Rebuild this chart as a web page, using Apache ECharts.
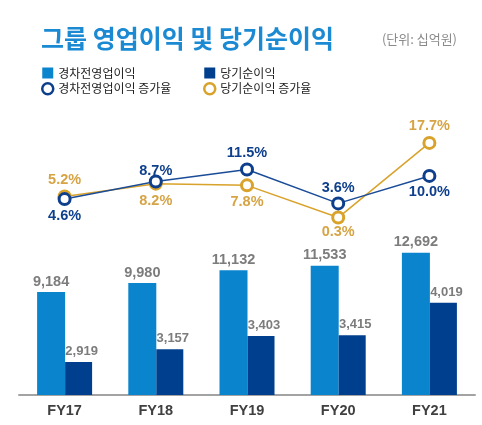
<!DOCTYPE html>
<html>
<head>
<meta charset="utf-8">
<script src="https://cdn.jsdelivr.net/npm/echarts@6/dist/echarts.min.js"></script>
<style>
  html, body { margin: 0; padding: 0; background: #fff; }
  #main { width: 482px; height: 425px; }
</style>
</head>
<body>
<div id="main"></div>
<script>
var chartDom = document.getElementById('main');
var myChart = echarts.init(chartDom);
var option;

// data
const years = ['FY17', 'FY18', 'FY19', 'FY20', 'FY21'];
const opProfit = [9184, 9980, 11132, 11533, 12692];
const netIncome = [2919, 3157, 3403, 3415, 4019];
const opGrowth = [4.6, 8.7, 11.5, 3.6, 10.0];
const netGrowth = [5.2, 8.2, 7.8, 0.3, 17.7];

// label side for each growth point
const opLabelPos = ['bottom', 'top', 'top', 'top', 'bottom'];
const netLabelPos = ['top', 'bottom', 'bottom', 'bottom', 'top'];
const opLabelDist = [2, -4, 2, 1, 2];
const netLabelDist = [2, 3, 2, 0, 2];

const numFont = '"Liberation Sans", Arial, sans-serif';
const krFont = '"Noto Sans CJK KR", sans-serif';

const LIGHT = '#0a84cd';
const DARK = '#003f8e';
const NAVY = '#0e3f8c';
const GOLD = '#d9a22a';

function fmt(v) {
  return v.toLocaleString('en-US');
}

option = {
  backgroundColor: '#fff',
  animation: false,
  title: [
    {
      text: '그룹 영업이익 및 당기순이익',
      left: 36,
      top: 21,
      textStyle: { fontFamily: krFont, fontSize: 25, fontWeight: 'bold', color: '#1b8ad3' }
    },
    {
      text: '(단위: 십억원)',
      right: 20,
      top: 28,
      textStyle: { fontFamily: krFont, fontSize: 13, fontWeight: 'normal', color: '#8a8a8a' }
    }
  ],
  legend: [
    {
      left: 36,
      top: 62,
      orient: 'vertical',
      itemGap: 3,
      itemWidth: 11,
      itemHeight: 11,
      textStyle: { fontFamily: krFont, fontSize: 12, color: '#222' },
      data: [
        { name: '경차전영업이익', icon: 'rect' },
        { name: '경차전영업이익 증가율', icon: 'circle', itemStyle: { color: '#fff', borderColor: NAVY, borderWidth: 2.5 } }
      ]
    },
    {
      left: 198,
      top: 62,
      orient: 'vertical',
      itemGap: 3,
      itemWidth: 11,
      itemHeight: 11,
      textStyle: { fontFamily: krFont, fontSize: 12, color: '#222' },
      data: [
        { name: '당기순이익', icon: 'rect' },
        { name: '당기순이익 증가율', icon: 'circle', itemStyle: { color: '#fff', borderColor: GOLD, borderWidth: 2.5 } }
      ]
    }
  ],
  grid: [
    { left: 19, right: 7, top: 238, bottom: 30 },
    { left: 19, right: 7, top: 130, height: 100 }
  ],
  xAxis: [
    {
      type: 'category',
      gridIndex: 0,
      data: years,
      axisTick: { show: false },
      axisLine: { lineStyle: { color: '#a3a3a3', width: 2 } },
      axisLabel: {
        margin: 8,
        fontFamily: numFont,
        fontSize: 14.5,
        fontWeight: 'bold',
        color: '#404040'
      }
    },
    {
      type: 'category',
      gridIndex: 1,
      data: years,
      show: false
    }
  ],
  yAxis: [
    { type: 'value', gridIndex: 0, min: 0, max: 14000, show: false, splitLine: { show: false } },
    { type: 'value', gridIndex: 0, min: 2307, max: 5220, show: false, splitLine: { show: false } },
    { type: 'value', gridIndex: 1, min: -2.6, max: 20.7, show: false, splitLine: { show: false } }
  ],
  series: [
    {
      name: '경차전영업이익',
      type: 'bar',
      xAxisIndex: 0,
      yAxisIndex: 0,
      data: opProfit,
      barWidth: 28,
      barGap: '0%',
      itemStyle: { color: LIGHT },
      label: {
        show: true,
        position: 'top',
        distance: 3,
        formatter: p => fmt(p.value),
        fontFamily: numFont,
        fontSize: 14.5,
        fontWeight: 'bold',
        color: '#7c7c7c'
      }
    },
    {
      name: '당기순이익',
      type: 'bar',
      xAxisIndex: 0,
      yAxisIndex: 1,
      data: netIncome,
      barWidth: 27,
      barGap: '0%',
      itemStyle: { color: DARK },
      label: {
        show: true,
        position: 'top',
        distance: 4,
        offset: [3, 0],
        formatter: p => fmt(p.value),
        fontFamily: numFont,
        fontSize: 13,
        fontWeight: 'bold',
        color: '#7c7c7c'
      }
    },
    {
      name: '당기순이익 증가율',
      type: 'line',
      xAxisIndex: 1,
      yAxisIndex: 2,
      data: netGrowth.map((v, i) => ({
        value: v,
        label: { position: netLabelPos[i], distance: netLabelDist[i] }
      })),
      symbol: 'circle',
      symbolSize: 11,
      lineStyle: { color: GOLD, width: 1.5 },
      itemStyle: { color: '#fff', borderColor: GOLD, borderWidth: 3 },
      label: {
        show: true,
        formatter: p => p.value.toFixed(1) + '%',
        fontFamily: numFont,
        fontSize: 14.5,
        fontWeight: 'bold',
        color: '#d6a445'
      }
    },
    {
      name: '경차전영업이익 증가율',
      type: 'line',
      xAxisIndex: 1,
      yAxisIndex: 2,
      data: opGrowth.map((v, i) => ({
        value: v,
        label: { position: opLabelPos[i], distance: opLabelDist[i] }
      })),
      symbol: 'circle',
      symbolSize: 11,
      lineStyle: { color: '#1b4c97', width: 1.5 },
      itemStyle: { color: '#fff', borderColor: NAVY, borderWidth: 3 },
      label: {
        show: true,
        formatter: p => p.value.toFixed(1) + '%',
        fontFamily: numFont,
        fontSize: 14.5,
        fontWeight: 'bold',
        color: NAVY
      }
    }
  ]
};

option && myChart.setOption(option);
</script>
</body>
</html>
